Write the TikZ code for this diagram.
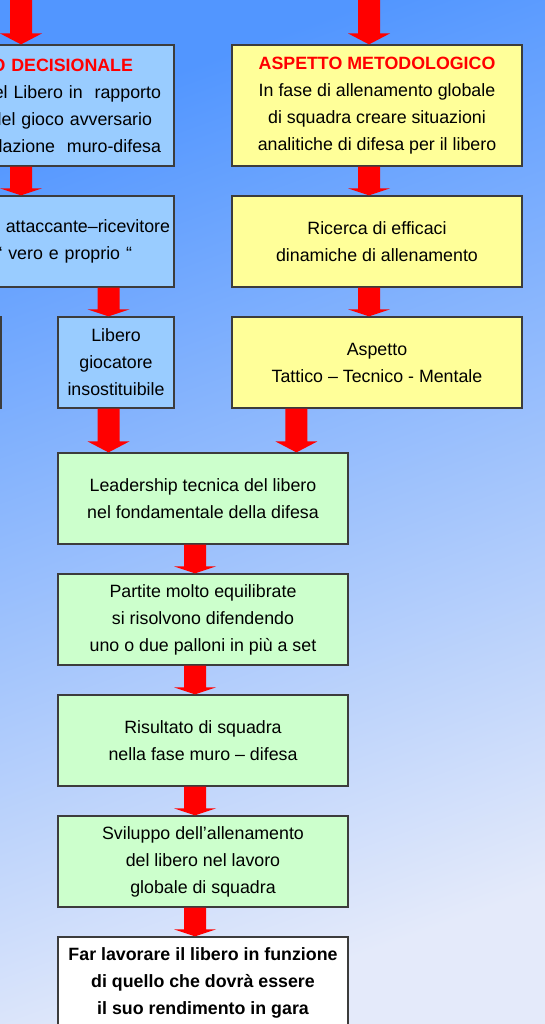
\documentclass[tikz,border=0pt]{standalone}
\usepackage{fontspec}
\setmainfont{Liberation Sans}
\usetikzlibrary{calc,positioning}
\definecolor{sfondoA}{RGB}{82,150,255}
\definecolor{sfondoB}{RGB}{228,234,250}
\definecolor{blu}{RGB}{153,204,255}
\definecolor{giallo}{RGB}{255,255,153}
\definecolor{verde}{RGB}{204,255,204}
\definecolor{bordo}{RGB}{60,60,60}
\tikzset{
  box/.style={draw=bordo, line width=0.6pt, rectangle, align=center, minimum width=145pt, minimum height=45.5pt,
    font=\fontsize{8.9pt}{13.5pt}\selectfont},
  boxblu/.style={box, fill=blu},
  boxgiallo/.style={box, fill=giallo},
  boxverde/.style={box, fill=verde},
  boxbianco/.style={box, fill=white, font=\fontsize{8.9pt}{13.5pt}\selectfont\bfseries},
  frecciarossa/.style={fill=red}
}
\newcommand{\titolo}[1]{{\color{red}\bfseries #1}}
\newcommand{\vuoto}[1]{\makebox[#1]{}}
\newcommand{\freccia}[4]{\fill[frecciarossa] ($(#1 |- #2)+(-5.5pt,0)$) -- ($(#1 |- #3)+(-5.5pt,#4)$) -- ($(#1 |- #3)+(-10.5pt,#4)$) -- (#1 |- #3) -- ($(#1 |- #3)+(10.5pt,#4)$) -- ($(#1 |- #3)+(5.5pt,#4)$) -- ($(#1 |- #2)+(5.5pt,0)$) -- cycle;}
\begin{document}
\begin{tikzpicture}[node distance=60.5pt]
\useasboundingbox (0,0) rectangle (272.5pt,-512pt);
\clip (0,0) rectangle (272.5pt,-512pt);
\shade[top color=sfondoA, bottom color=sfondoB, shading angle=20] (0,0) rectangle (272.5pt,-512pt);

\node[boxgiallo, minimum height=60.5pt] (met) at (188.5pt,-52.75pt) {\titolo{ASPETTO METODOLOGICO}\\In fase di allenamento globale\\di squadra creare situazioni\\analitiche di difesa per il libero};
\node[boxblu, minimum height=60.5pt, align=right, inner xsep=6.5pt, text width=132pt, left of=met, xshift=-113.5pt] (dec) {\titolo{O DECISIONALE}\vuoto{14pt}\\el Libero in~~rapporto\\lel gioco avversario\vuoto{4.5pt}\\lazione~~muro-difesa};

\node[boxgiallo, below of=met, yshift=-7.5pt] (ric) {Ricerca di efficaci\\dinamiche di allenamento};
\node[boxgiallo, below of=ric] (tat) {Aspetto\\Tattico -- Tecnico - Mentale};
\node[boxblu, align=right, inner xsep=2pt, text width=141pt, below of=dec, yshift=-7.5pt] (att) {attaccante--ricevitore\\“ vero e proprio “\vuoto{19pt}};

\node[boxblu, minimum width=58pt, below of=att, xshift=43.5pt] (lib) {Libero\\giocatore\\insostituibile};
\node[boxblu, minimum width=58pt, left of=lib, xshift=-26pt] (lato) {};

\node[boxverde, below of=lib, xshift=43.5pt, yshift=-7.5pt] (lead) {Leadership tecnica del libero\\nel fondamentale della difesa};
\node[boxverde, below of=lead] (part) {Partite molto equilibrate\\si risolvono difendendo\\uno o due palloni in più a set};
\node[boxverde, below of=part] (ris) {Risultato di squadra\\nella fase muro -- difesa};
\node[boxverde, below of=ris] (svi) {Sviluppo dell’allenamento\\del libero nel lavoro\\globale di squadra};
\node[boxbianco, below of=svi] (far) {Far lavorare il libero in funzione\\di quello che dovrà essere\\il suo rendimento in gara};

\coordinate (inizio) at (0,10pt);
\coordinate (colS) at ([xshift=-4pt]dec.north);
\coordinate (colD) at ([xshift=-4pt]met.north);
\coordinate (colL) at ([xshift=-3.75pt]lib.north);
\coordinate (colT) at ([xshift=32.5pt]tat.south west);
\coordinate (colV) at ([xshift=-4pt]lead.north);

\freccia{colS}{inizio}{dec.north}{5.5pt}
\freccia{colD}{inizio}{met.north}{5.5pt}
\freccia{colS}{dec.south}{att.north}{3.5pt}
\freccia{colD}{met.south}{ric.north}{3.5pt}
\freccia{colD}{ric.south}{tat.north}{3.5pt}
\freccia{colL}{att.south}{lib.north}{3.5pt}
\freccia{colL}{lib.south}{lead.north}{5.5pt}
\freccia{colT}{tat.south}{lead.north}{5.5pt}
\freccia{colV}{lead.south}{part.north}{3.5pt}
\freccia{colV}{part.south}{ris.north}{3.5pt}
\freccia{colV}{ris.south}{svi.north}{3.5pt}
\freccia{colV}{svi.south}{far.north}{3.5pt}
\end{tikzpicture}
\end{document}
